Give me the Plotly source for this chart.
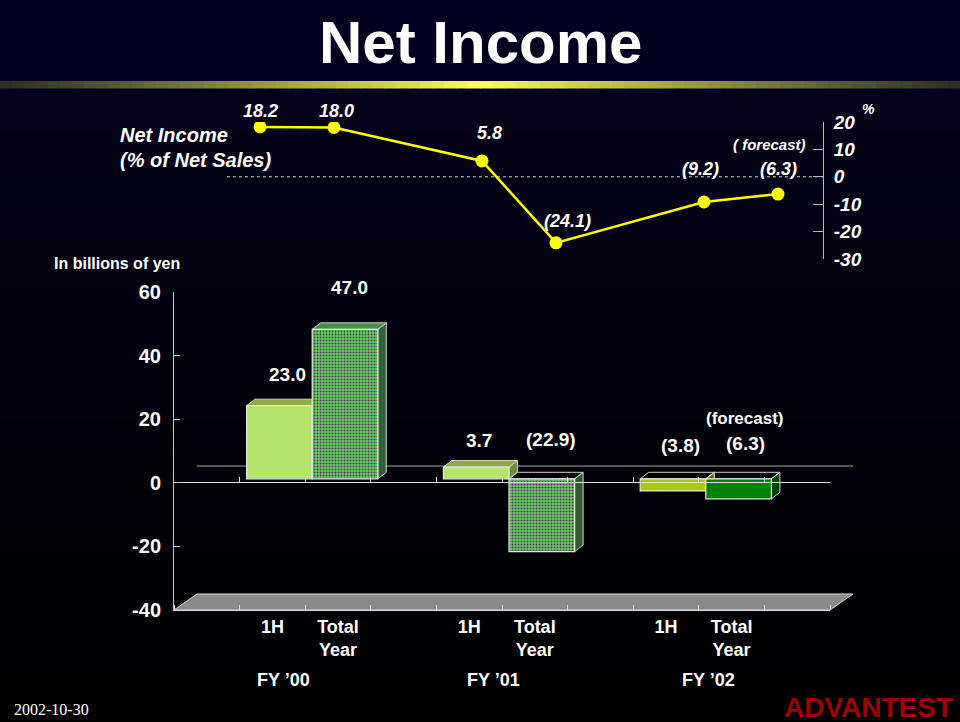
import plotly.graph_objects as go

W, H = 960, 722


def fx(p):
    return p / W


def fy(p):
    return 1 - p / H


# ---------------- data ----------------
cat_labels = ["1H", "Total<br>Year", "1H", "Total<br>Year", "1H", "Total<br>Year"]
fy_labels = ["FY \u201900", "FY \u201901", "FY \u201902"]
bar_values = [23.0, 47.0, 3.7, -22.9, -3.8, -6.3]
pct_values = [18.2, 18.0, 5.8, -24.1, -9.2, -6.3]
y_tick_vals = [-40, -20, 0, 20, 40, 60]
y_tick_text = ["-40", "-20", "0", "20", "40", "60"]
pct_tick_vals = [-30, -20, -10, 0, 10, 20]
pct_tick_text = ["-30", "-20", "-10", "0", "10", "20"]

# ---------------- layout / style ----------------
bar_slots = [1.5, 2.5, 4.5, 5.5, 7.5, 8.5]
pct_slots = [0, 1, 3, 4, 6, 7]
front_col = ["#b4e46c", "#6acc6a", "#b4e46c", "#6acc6a", "#a8cc00", "#008000"]
pat_fg = ["#b4e46c", "#58b858", "#b4e46c", "#58b858", "#a8cc00", "#008000"]
top_col = ["#8ea84c", "#4c8c44", "#8ea84c", "rgba(0,0,0,0)", "rgba(0,0,0,0)", "rgba(0,0,0,0)"]
side_col = ["#6e8c3a", "#33603a", "#6e8c3a", "#2f5a30", "#5a7000", "#004400"]
pat_shape = ["", ".", "", ".", "", ""]
bar_lbl_shift = [(8, 31), (4, 42), (3, 27), (9, 39), (7, 33), (7, 35)]
pct_lbl_shift = [(0, 16), (2, 16), (7, 28), (11, 22), (-4, 33), (0, 25)]
fy_label_px = [283, 494, 708]

FONT = "Liberation Sans, Arial, sans-serif"
WHITE = "#ffffff"

fig = go.Figure()

# bars (front faces)
fig.add_trace(go.Bar(
    x=bar_slots, y=bar_values, width=1.0, xaxis="x", yaxis="y",
    marker=dict(color=front_col, line=dict(color="#e6e6e6", width=1.2),
                pattern=dict(shape=pat_shape, fgcolor=pat_fg, fgopacity=1,
                             size=3, solidity=0.35, fillmode="overlay")),
    hoverinfo="skip", showlegend=False,
))

# invisible helper traces so the front axes render
fig.add_trace(go.Scatter(x=[0, 10], y=[0, 0], xaxis="x3", yaxis="y2", mode="lines",
                         line=dict(width=0), hoverinfo="skip", showlegend=False))
fig.add_trace(go.Scatter(x=[0, 10], y=[0, 0], xaxis="x2", yaxis="y2", mode="lines",
                         line=dict(width=0), hoverinfo="skip", showlegend=False))

# net income % line
fig.add_trace(go.Scatter(
    x=pct_slots, y=pct_values, xaxis="x4", yaxis="y4", mode="lines+markers",
    line=dict(color="#ffff00", width=2.5),
    marker=dict(color="#ffff00", size=13),
    hoverinfo="skip", showlegend=False,
))

shapes = []

# background gradient
n = 60
for i in range(n):
    y0 = i * H / n
    y1 = (i + 1) * H / n
    if y1 <= 100:
        r, g, b = 2, 0, 30
    else:
        tt = (y0 - 100) / (H - 100)
        r = round(5 * (1 - tt))
        g = round(2 * (1 - tt))
        b = round(26 * (1 - tt) ** 1.2)
    shapes.append(dict(type="rect", xref="paper", yref="paper", x0=0, x1=1,
                       y0=fy(y1 + 0.5), y1=fy(y0), fillcolor=f"rgb({r},{g},{b})",
                       line=dict(width=0), layer="below"))

# yellow gradient band under title
m = 80
for i in range(m):
    x0 = i * W / m
    x1 = (i + 1) * W / m
    c = abs(((x0 + x1) / 2) - W / 2) / (W / 2)
    k = (1 - c) ** 1.1
    r = round(45 + (252 - 45) * k)
    g = round(45 + (252 - 45) * k)
    b = round(40 + (100 - 40) * k)
    shapes.append(dict(type="rect", xref="paper", yref="paper", x0=fx(x0), x1=fx(x1 + 0.5),
                       y0=fy(88.5), y1=fy(81), fillcolor=f"rgb({r},{g},{b})",
                       line=dict(width=0), layer="below"))

# floor of the 3D chart
shapes.append(dict(type="path", xref="paper", yref="paper", layer="below",
                   path=f"M {fx(174)},{fy(610)} L {fx(830)},{fy(610)} L {fx(853)},{fy(594)} L {fx(197)},{fy(594)} Z",
                   fillcolor="#8a8a8a", line=dict(color="#d8d8d8", width=1)))
# back wall zero line
shapes.append(dict(type="line", xref="paper", yref="paper", layer="below",
                   x0=fx(197), x1=fx(853), y0=fy(466), y1=fy(466),
                   line=dict(color="#a8a8a8", width=1.2)))

# 3D top / side faces of bars
ddx = 8.5 / 65.6
ddy = 6.5 / 3.18
for c, v, tc, sc in zip(bar_slots, bar_values, top_col, side_col):
    x0, x1 = c - 0.5, c + 0.5
    top, bot = max(v, 0), min(v, 0)
    shapes.append(dict(type="path", xref="x", yref="y", layer="below",
                       path=f"M {x1},{bot} L {x1},{top} L {x1 + ddx},{top + ddy} L {x1 + ddx},{bot + ddy} Z",
                       fillcolor=sc, line=dict(color="#d0d0d0", width=1)))
    shapes.append(dict(type="path", xref="x", yref="y", layer="below",
                       path=f"M {x0},{top} L {x1},{top} L {x1 + ddx},{top + ddy} L {x0 + ddx},{top + ddy} Z",
                       fillcolor=tc, line=dict(color="#d0d0d0", width=1)))

# dotted zero line of the % chart
shapes.append(dict(type="line", xref="x4 domain", yref="y4", x0=0, x1=1, y0=0, y1=0,
                   line=dict(color="#d0d0d0", width=1, dash="dot"), layer="below"))

ann = []


def A(text, x, y, size=19, xanchor="center", yanchor="middle", xref="paper", yref="paper",
      color=WHITE, family=FONT, xshift=0, yshift=0):
    ann.append(dict(text=text, x=x, y=y, xref=xref, yref=yref, showarrow=False,
                    xanchor=xanchor, yanchor=yanchor, xshift=xshift, yshift=yshift,
                    font=dict(size=size, color=color, family=family)))


def fmt(v):
    return f"{v:.1f}" if v >= 0 else f"({-v:.1f})"


A("<b>Net Income</b>", 0.5, fy(43), size=60)
A("<b><i>Net Income</i></b>", fx(118), fy(135), size=20, xanchor="left")
A("<b><i>(% of Net Sales)</i></b>", fx(118), fy(160), size=20, xanchor="left")
A("<b>In billions of yen</b>", fx(52), fy(263), size=16, xanchor="left")

for s, v, (dx, dy) in zip(pct_slots, pct_values, pct_lbl_shift):
    A(f"<b><i>{fmt(v)}</i></b>", s, v, size=18, xref="x4", yref="y4", xshift=dx, yshift=dy)
A("<b><i>( forecast)</i></b>", fx(769), fy(145), size=15)
A("<b><i>%</i></b>", fx(868), fy(109), size=14)

for s, v, (dx, dy) in zip(bar_slots, bar_values, bar_lbl_shift):
    A(f"<b>{fmt(v)}</b>", s, max(v, 0), size=19, xref="x", yref="y", xshift=dx, yshift=dy)
A("<b>(forecast)</b>", fx(744), fy(418), size=17)

for t, p in zip(fy_labels, fy_label_px):
    A(f"<b>{t}</b>", fx(p), fy(680), size=18)

A("2002-10-30", fx(12), fy(709), size=16, xanchor="left",
  family="Liberation Serif, Times New Roman, serif")
A("<b>ADVANTEST</b>", fx(955), fy(707), size=28, xanchor="right", color="#9c0000")

axis_line = "#c8c8c8"
fig.update_layout(
    template="none",
    width=W, height=H, margin=dict(l=0, r=0, t=0, b=0, pad=0), autosize=False,
    paper_bgcolor="#000000", plot_bgcolor="rgba(0,0,0,0)",
    showlegend=False, barmode="overlay",
    shapes=shapes, annotations=ann,
    xaxis=dict(domain=[fx(181), fx(837)], range=[0, 10], visible=False, anchor="y",
               automargin=False),
    yaxis=dict(domain=[fy(606), fy(288)], range=[-40, 60], visible=False, anchor="x",
               automargin=False),
    xaxis2=dict(domain=[fx(174), fx(830)], range=[0, 10], anchor="y2", automargin=False,
                tickmode="array", tickvals=bar_slots, ticktext=cat_labels, ticks="",
                tickfont=dict(size=18, color=WHITE, family=FONT, weight="bold"),
                minor=dict(tickmode="array", tickvals=list(range(11)), ticks="inside",
                           ticklen=5, tickcolor="#e0e0e0"),
                showline=True, linecolor="#d8d8d8", linewidth=1, showgrid=False, zeroline=False,
                ticklabelstandoff=0),
    yaxis2=dict(domain=[fy(610), fy(292)], range=[-40, 60], anchor="x2", automargin=False,
                tickmode="array", tickvals=y_tick_vals, ticktext=y_tick_text,
                ticks="inside", ticklen=6, tickcolor=axis_line,
                tickfont=dict(size=20, color=WHITE, family=FONT, weight="bold"),
                showline=True, linecolor=axis_line, linewidth=1, showgrid=False, zeroline=False,
                ticklabelstandoff=8),
    xaxis3=dict(overlaying="x2", anchor="free", position=fy(482), range=[0, 10],
                automargin=False,
                tickmode="array", tickvals=list(range(11)), ticks="inside", ticklen=5,
                tickcolor="#e0e0e0", showticklabels=False,
                showline=True, linecolor="#e0e0e0", linewidth=1, showgrid=False, zeroline=False),
    xaxis4=dict(domain=[fx(227), fx(823)], range=[-0.446, 7.608], visible=False, anchor="y4",
                automargin=False),
    yaxis4=dict(domain=[fy(259), fy(122)], range=[-30, 20], anchor="x4", side="right",
                automargin=False,
                tickmode="array", tickvals=pct_tick_vals, ticktext=pct_tick_text,
                ticks="inside", ticklen=10, tickcolor="#b8b8b8",
                tickfont=dict(size=19, color=WHITE, family=FONT, weight="bold", style="italic"),
                showline=True, linecolor="#b8b8b8", linewidth=1, showgrid=False, zeroline=False,
                ticklabelstandoff=6),
)

fig.write_html("out.html", config={"displayModeBar": False, "staticPlot": True},
               post_script="document.body.style.margin='0px';document.body.style.overflow='hidden';")
